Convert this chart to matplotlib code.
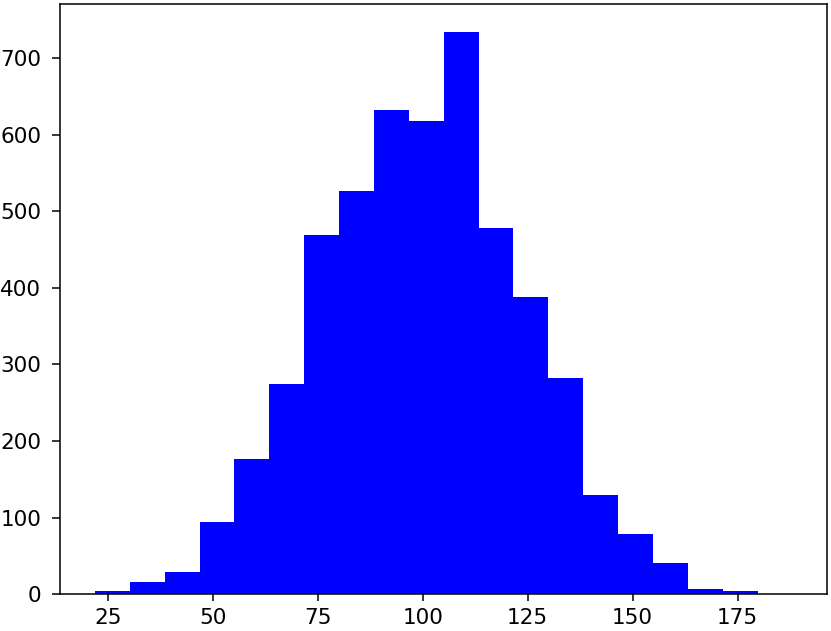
import numpy as np
import matplotlib
matplotlib.use("Agg")
import matplotlib.pyplot as plt

# histogram: 20 equal bins
bin_lo = 21.93
bin_hi = 188.04
counts = [4, 16, 29, 94, 176, 275, 469, 526, 632, 618,
          734, 478, 388, 282, 130, 79, 41, 7, 4, 1]

edges = np.linspace(bin_lo, bin_hi, len(counts) + 1)
centers = (edges[:-1] + edges[1:]) / 2

plt.rcParams['font.size'] = 15.5
plt.rcParams['axes.linewidth'] = 1.1
plt.rcParams['xtick.major.size'] = 5
plt.rcParams['ytick.major.size'] = 5.5
plt.rcParams['xtick.major.width'] = 1.1
plt.rcParams['ytick.major.width'] = 1.1
plt.rcParams['xtick.major.pad'] = 5
plt.rcParams['ytick.major.pad'] = 8

fig = plt.figure(figsize=(8.31, 6.31), dpi=100)
ax = fig.add_axes([60 / 831, (631 - 594.3) / 631, (827.3 - 60) / 831, (594.3 - 3.7) / 631])

ax.hist(centers, bins=edges, weights=counts, color='blue')

fig.savefig('out.png', dpi=100)
